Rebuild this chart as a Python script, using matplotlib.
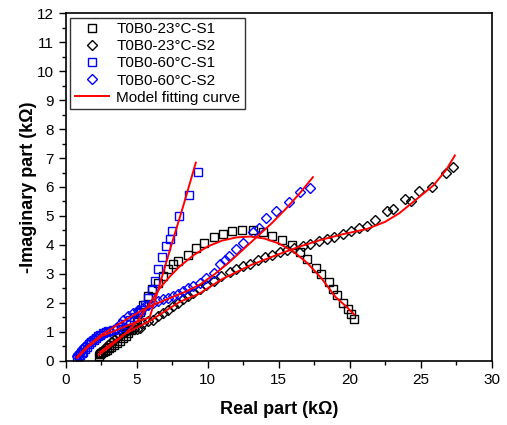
import numpy as np
import matplotlib
matplotlib.use('Agg')
import matplotlib.pyplot as plt
from matplotlib.ticker import MultipleLocator

plt.rcParams['font.family'] = ['Liberation Sans', 'DejaVu Sans']

# ======================
# 数据
# ======================
# T0B0-23°C-S1
x_23_s1 = [2.3, 2.4, 2.5, 2.6, 2.75, 2.9, 3.05, 3.2, 3.4, 3.6, 3.8, 4.0, 4.2, 4.4, 4.6,
           4.8, 5.0, 5.2, 5.45, 5.8, 6.03, 6.5, 6.85, 7.2, 7.56, 7.9, 8.6, 9.15, 9.7,
           10.4, 11.1, 11.7, 12.4, 13.2, 13.9, 14.5, 15.2, 15.9, 16.5, 16.95, 17.6,
           18.0, 18.5, 18.8, 19.1, 19.5, 19.9, 20.1, 20.3]
y_23_s1 = [0.18, 0.22, 0.26, 0.3, 0.34, 0.38, 0.43, 0.48, 0.55, 0.62, 0.7, 0.78, 0.87,
           0.96, 1.06, 1.18, 1.35, 1.7, 1.94, 2.23, 2.47, 2.7, 2.93, 3.16, 3.33, 3.45,
           3.65, 3.9, 4.08, 4.26, 4.37, 4.47, 4.5, 4.5, 4.43, 4.3, 4.18, 4.0, 3.74, 3.5,
           3.22, 2.99, 2.72, 2.47, 2.26, 2.0, 1.79, 1.63, 1.45]

# T0B0-23°C-S2
x_23_s2 = [2.4, 2.6, 2.8, 3.0, 3.2, 3.4, 3.6, 3.8, 4.0, 4.2, 4.4, 4.6, 4.8, 5.0, 5.2,
           5.44, 5.8, 6.15, 6.5, 6.85, 7.2, 7.56, 7.9, 8.26, 8.6, 8.96, 9.44, 9.9, 10.4,
           10.96, 11.55, 12.0, 12.5, 13.0, 13.5, 14.0, 14.55, 15.07, 15.6, 16.1, 16.7,
           17.2, 17.8, 18.4, 18.9, 19.5, 20.05, 20.65, 21.2, 21.8, 22.6, 23.05, 23.9,
           24.3, 24.9, 25.8, 26.8, 27.3]
y_23_s2 = [0.3, 0.38, 0.46, 0.55, 0.64, 0.73, 0.82, 0.9, 0.98, 1.04, 1.08, 1.1, 1.1,
           1.1, 1.15, 1.31, 1.36, 1.42, 1.53, 1.65, 1.77, 1.89, 2.0, 2.12, 2.23, 2.35,
           2.48, 2.62, 2.75, 2.93, 3.07, 3.16, 3.27, 3.35, 3.48, 3.59, 3.65, 3.74, 3.83,
           3.9, 3.97, 4.03, 4.13, 4.2, 4.29, 4.38, 4.49, 4.57, 4.67, 4.87, 5.18, 5.24,
           5.57, 5.53, 5.85, 5.99, 6.49, 6.69]

# T0B0-60°C-S1
x_60_s1 = [0.8, 0.9, 1.0, 1.1, 1.2, 1.35, 1.5, 1.65, 1.8, 1.95, 2.1, 2.25, 2.4, 2.6,
           2.8, 3.0, 3.3, 3.6, 3.9, 4.2, 4.5, 4.8, 5.1, 5.3, 5.56, 5.8, 6.05, 6.27, 6.5,
           6.74, 7.05, 7.3, 7.49, 7.96, 8.66, 9.27]
y_60_s1 = [0.1, 0.15, 0.2, 0.26, 0.32, 0.4, 0.48, 0.57, 0.65, 0.72, 0.79, 0.85, 0.9,
           0.95, 0.99, 1.02, 1.05, 1.1, 1.18, 1.28, 1.4, 1.52, 1.65, 1.75, 1.94, 2.18,
           2.45, 2.75, 3.16, 3.57, 3.96, 4.2, 4.49, 5.01, 5.71, 6.51]

# T0B0-60°C-S2
x_60_s2 = [0.75, 0.85, 0.99, 1.15, 1.3, 1.5, 1.7, 1.9, 2.1, 2.4, 2.7, 3.1, 3.5, 3.8,
           4.04, 4.4, 4.74, 5.1, 5.44, 5.8, 6.15, 6.5, 6.85, 7.2, 7.56, 7.9, 8.26, 8.6,
           8.96, 9.44, 9.9, 10.4, 10.85, 11.2, 11.5, 12.0, 12.5, 13.2, 13.6, 14.1, 14.8,
           15.7, 16.5, 17.2]
y_60_s2 = [0.15, 0.22, 0.32, 0.4, 0.48, 0.58, 0.67, 0.74, 0.8, 0.9, 0.96, 1.02, 1.15,
           1.28, 1.42, 1.53, 1.65, 1.74, 1.82, 1.91, 2.0, 2.06, 2.12, 2.17, 2.23, 2.32,
           2.41, 2.5, 2.58, 2.7, 2.87, 3.04, 3.33, 3.48, 3.62, 3.85, 4.08, 4.46, 4.6,
           4.92, 5.16, 5.47, 5.82, 5.96]

# 拟合曲线
fx_23_s1 = [2.3, 3.0, 4.0, 5.0, 5.5, 6.0, 6.6, 7.3, 8.0, 9.0, 10.0, 11.0, 12.0, 13.0,
            14.0, 15.0, 16.0, 17.0, 18.0, 19.0, 19.8, 20.3]
fy_23_s1 = [0.2, 0.45, 0.85, 1.35, 1.7, 2.05, 2.5, 2.9, 3.25, 3.65, 3.95, 4.15, 4.26,
            4.29, 4.22, 4.05, 3.78, 3.38, 2.85, 2.2, 1.85, 1.6]
fx_23_s2 = [2.4, 3.0, 4.0, 5.0, 6.0, 7.0, 8.0, 9.4, 11.0, 13.0, 15.0, 16.5, 18.0, 19.5,
            21.2, 22.5, 23.5, 24.5, 25.9, 26.8, 27.4]
fy_23_s2 = [0.3, 0.52, 0.88, 1.15, 1.4, 1.72, 2.03, 2.32, 2.82, 3.3, 3.68, 3.95, 4.18,
            4.37, 4.55, 4.8, 5.1, 5.5, 6.06, 6.6, 7.09]
fx_60_s1 = [0.8, 1.5, 2.5, 3.5, 4.5, 5.3, 5.9, 6.5, 7.4, 8.3, 9.15]
fy_60_s1 = [0.1, 0.45, 0.85, 1.05, 1.25, 1.4, 1.5, 2.45, 3.95, 5.4, 6.84]
fx_60_s2 = [0.75, 1.5, 2.5, 3.5, 4.5, 5.5, 6.5, 7.5, 8.5, 9.5, 10.5, 11.5, 12.5, 13.5,
            14.5, 15.5, 16.5, 17.4]
fy_60_s2 = [0.12, 0.5, 0.9, 1.2, 1.5, 1.78, 2.0, 2.2, 2.4, 2.65, 3.0, 3.4, 3.85, 4.3,
            4.75, 5.25, 5.8, 6.34]

# ======================
# 绘图
# ======================
fig = plt.figure(figsize=(5.07, 4.25), dpi=100)
ax = fig.add_axes([0.130, 0.151, 0.840, 0.818])

mk = dict(linestyle='none', markerfacecolor='none', markeredgewidth=1.0)
ax.plot(x_23_s1, y_23_s1, marker='s', ms=6, color='black', label='T0B0-23°C-S1', **mk)
ax.plot(x_23_s2, y_23_s2, marker='D', ms=5.5, color='black', label='T0B0-23°C-S2', **mk)
ax.plot(x_60_s1, y_60_s1, marker='s', ms=6, color='blue', label='T0B0-60°C-S1', **mk)
ax.plot(x_60_s2, y_60_s2, marker='D', ms=5.5, color='blue', label='T0B0-60°C-S2', **mk)

ax.plot(fx_23_s1, fy_23_s1, color='red', lw=1.4, label='Model fitting curve')
ax.plot(fx_23_s2, fy_23_s2, color='red', lw=1.4)
ax.plot(fx_60_s1, fy_60_s1, color='red', lw=1.4)
ax.plot(fx_60_s2, fy_60_s2, color='red', lw=1.4)

ax.set_xlim(0, 30)
ax.set_ylim(0, 12)
ax.xaxis.set_major_locator(MultipleLocator(5))
ax.xaxis.set_minor_locator(MultipleLocator(2.5))
ax.yaxis.set_major_locator(MultipleLocator(1))
ax.yaxis.set_minor_locator(MultipleLocator(0.5))
ax.tick_params(which='major', direction='out', length=5, width=1, labelsize=11)
ax.tick_params(which='minor', direction='out', length=3, width=1)
for s in ax.spines.values():
    s.set_linewidth(1.2)

ax.set_xlabel('Real part (kΩ)', fontsize=13, fontweight='bold', labelpad=10)
ax.set_ylabel('-Imaginary part (kΩ)', fontsize=13, fontweight='bold', labelpad=0)

leg = ax.legend(loc='upper left', fontsize=11, frameon=True, fancybox=False,
                edgecolor='black', borderaxespad=0.3, handlelength=2.2,
                handletextpad=0.5, borderpad=0.3, labelspacing=0.2)
leg.get_frame().set_linewidth(1.0)

plt.savefig('out.png', dpi=100)
